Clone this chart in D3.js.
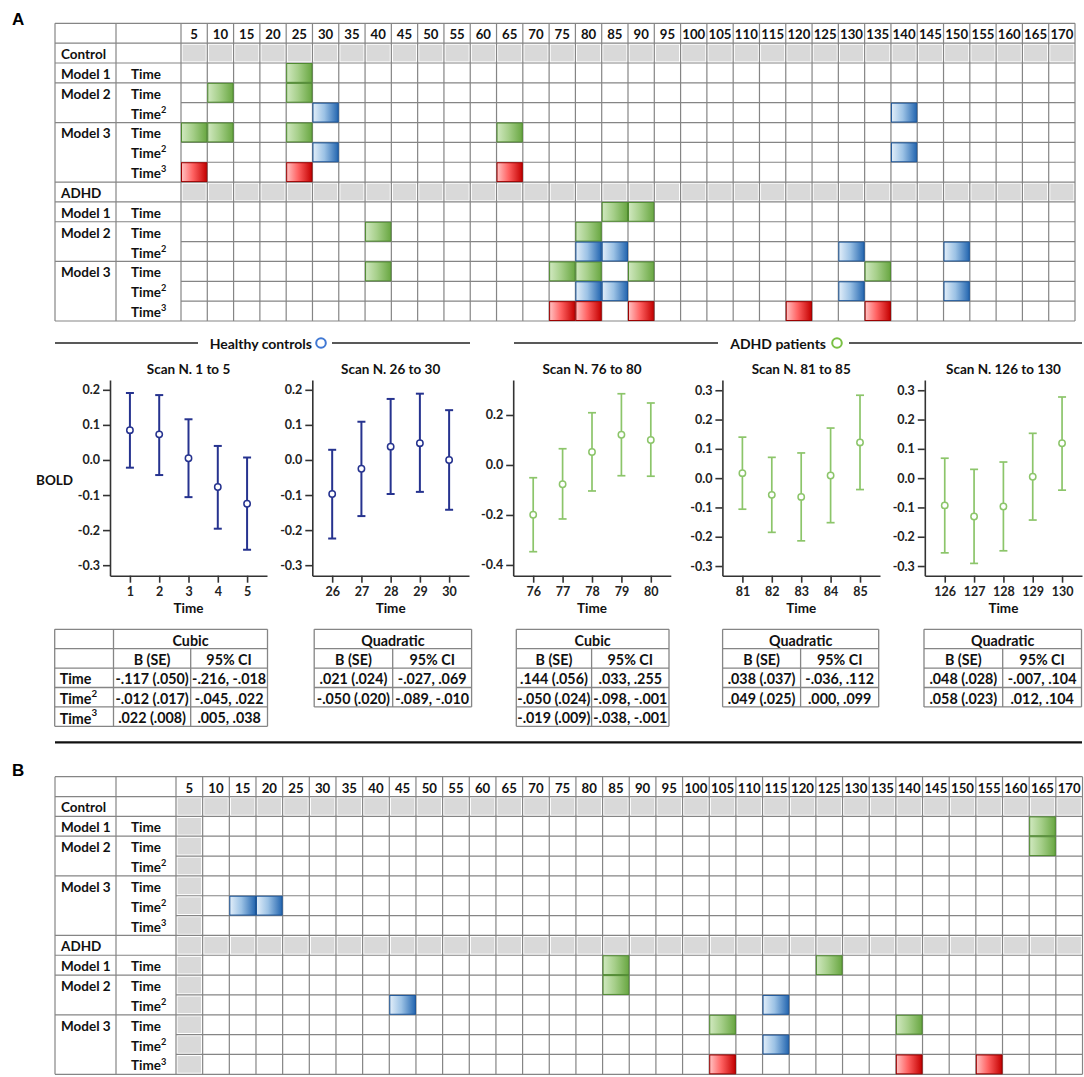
<!DOCTYPE html>
<html><head><meta charset="utf-8">
<script src="https://cdn.jsdelivr.net/npm/d3@7"></script>
<style>body{margin:0;background:#fff}svg{display:block}</style>
</head><body><svg id="c" width="1084" height="1077"></svg>
<script>
// ---------- DATA ----------
const scanCols = [5,10,15,20,25,30,35,40,45,50,55,60,65,70,75,80,85,90,95,100,105,110,115,120,125,130,135,140,145,150,155,160,165,170];
const rowGroup = ["Control","Model 1","Model 2","","Model 3","","","ADHD","Model 1","Model 2","","Model 3","",""];
const rowTerm  = ["","Time","Time","Time²","Time","Time²","Time³","","Time","Time","Time²","Time","Time²","Time³"];
const headerRows = [0,7];
const groupEnds = [0,1,3,6,7,8,10,13];

// Panel A significant cells: [rowIndex, scan]
const aLinear = [[1,25],[2,10],[2,25],[4,5],[4,10],[4,25],[4,65],[8,85],[8,90],[9,40],[9,80],[11,40],[11,75],[11,80],[11,90],[11,135]];
const aQuadratic = [[3,30],[3,140],[5,30],[5,140],[10,80],[10,85],[10,130],[10,150],[12,80],[12,85],[12,130],[12,150]];
const aCubic = [[6,5],[6,25],[6,65],[13,75],[13,80],[13,90],[13,120],[13,135]];
const aExcluded = [];

// Panel B significant cells
const bLinear = [[1,165],[2,165],[8,85],[8,125],[9,85],[11,105],[11,140]];
const bQuadratic = [[5,15],[5,20],[10,45],[10,115],[12,115]];
const bCubic = [[13,105],[13,140],[13,155]];
const bExcluded = [5];

// Error-bar panels
const p1Times = [1,2,3,4,5];
const p1Mean = [0.085,0.073,0.005,-0.077,-0.125];
const p1Lo = [-0.022,-0.043,-0.106,-0.196,-0.256];
const p1Hi = [0.191,0.185,0.116,0.040,0.007];

const p2Times = [26,27,28,29,30];
const p2Mean = [-0.097,-0.025,0.038,0.048,0.000];
const p2Lo = [-0.224,-0.160,-0.097,-0.091,-0.142];
const p2Hi = [0.029,0.109,0.174,0.189,0.142];

const p3Times = [76,77,78,79,80];
const p3Mean = [-0.199,-0.077,0.052,0.121,0.100];
const p3Lo = [-0.347,-0.216,-0.104,-0.043,-0.045];
const p3Hi = [-0.051,0.065,0.209,0.285,0.248];

const p4Times = [81,82,83,84,85];
const p4Mean = [0.017,-0.057,-0.064,0.009,0.122];
const p4Lo = [-0.106,-0.185,-0.214,-0.152,-0.039];
const p4Hi = [0.140,0.071,0.086,0.171,0.283];

const p5Times = [126,127,128,129,130];
const p5Mean = [-0.093,-0.131,-0.097,0.005,0.119];
const p5Lo = [-0.255,-0.291,-0.248,-0.143,-0.041];
const p5Hi = [0.068,0.030,0.055,0.153,0.277];

const panelTitles = ["Scan N. 1 to 5","Scan N. 26 to 30","Scan N. 76 to 80","Scan N. 81 to 85","Scan N. 126 to 130"];
const ticksHC = [-0.3,-0.2,-0.1,0.0,0.1,0.2];
const ticks76 = [-0.4,-0.2,0.0,0.2];
const ticksAD = [-0.3,-0.2,-0.1,0.0,0.1,0.2,0.3];

// Tables
const tableTitles = ["Cubic","Quadratic","Cubic","Quadratic","Quadratic"];
const tableTerms = ["Time","Time²","Time³"];
const t1B = ["-.117 (.050)","-.012 (.017)",".022 (.008)"];
const t1CI = ["-.216, -.018","-.045, .022",".005, .038"];
const t2B = [".021 (.024)","-.050 (.020)"];
const t2CI = ["-.027, .069","-.089, -.010"];
const t3B = [".144 (.056)","-.050 (.024)","-.019 (.009)"];
const t3CI = [".033, .255","-.098, -.001","-.038, -.001"];
const t4B = [".038 (.037)",".049 (.025)"];
const t4CI = ["-.036, .112",".000, .099"];
const t5B = [".048 (.028)",".058 (.023)"];
const t5CI = ["-.007, .104",".012, .104"];

// ---------- DRAW ----------
const svg = d3.select("#c");
const FONT = "Lato, 'Open Sans', sans-serif";
svg.append("rect").attr("width",1084).attr("height",1077).attr("fill","#fff");

// write text with real superscript for ² / ³
function supText(sel, s, size) {
  sel.text(null);
  const m = s.match(/^(.*?)([²³])$/);
  if (!m) { sel.text(s); return; }
  sel.append("tspan").text(m[1]);
  sel.append("tspan").attr("font-size", size * 0.68).attr("dy", -size * 0.36).text(m[2] === "²" ? "2" : "3");
}

const defs = svg.append("defs");
const grads = {
  green: {stops:["#d0e8bf","#a6cf8a","#69a742"], stroke:"#4f8a30"},
  blue:  {stops:["#e2eef9","#9cc2e5","#2466b0"], stroke:"#1c5599"},
  red:   {stops:["#ffc2c2","#ff6262","#c40000"], stroke:"#9c0000"}
};
Object.entries(grads).forEach(([k,v]) => {
  const lg = defs.append("linearGradient").attr("id","g-"+k).attr("x1","0").attr("x2","1").attr("y1","0").attr("y2","0");
  lg.append("stop").attr("offset","0").attr("stop-color",v.stops[0]);
  lg.append("stop").attr("offset","0.45").attr("stop-color",v.stops[1]);
  lg.append("stop").attr("offset","1").attr("stop-color",v.stops[2]);
});

function drawGrid(cfg) {
  const g = svg.append("g");
  const x = d3.scaleBand().domain(scanCols).range([cfg.x2, cfg.xEnd]);
  const y = d3.scaleBand().domain(d3.range(15)).range([cfg.yTop, cfg.yBot]);
  const bw = x.bandwidth(), bh = y.bandwidth();
  const gray = [];
  headerRows.forEach(r => scanCols.forEach(c => gray.push([r,c])));
  cfg.excluded.forEach(c => rowGroup.forEach((_, r) => { if (!headerRows.includes(r)) gray.push([r,c]); }));
  g.selectAll(".gr").data(gray).join("rect")
    .attr("x", d => x(d[1]) + 1.6).attr("y", d => y(d[0]+1) + 1.6)
    .attr("width", bw - 3.2).attr("height", bh - 3.2).attr("fill", "#d9d9d9");
  const lc = "#858585", lw = 1.2;
  const vx = scanCols.map(c => x(c)).concat([cfg.xEnd]);
  g.selectAll(".vl").data(vx).join("line")
    .attr("x1", d => d).attr("x2", d => d).attr("y1", cfg.yTop).attr("y2", cfg.yBot)
    .attr("stroke", lc).attr("stroke-width", lw);
  g.selectAll(".vl2").data([cfg.x0, cfg.x1]).join("line")
    .attr("x1", d => d).attr("x2", d => d).attr("y1", cfg.yTop).attr("y2", cfg.yBot)
    .attr("stroke", lc).attr("stroke-width", lw);
  const hy = d3.range(15).map(i => y(i)).concat([cfg.yBot]);
  g.selectAll(".hl").data(hy).join("line")
    .attr("x1", cfg.x2).attr("x2", cfg.xEnd).attr("y1", d => d).attr("y2", d => d)
    .attr("stroke", lc).attr("stroke-width", lw);
  const hyL = [cfg.yTop, y(1)].concat(groupEnds.map(r => r + 2 < 15 ? y(r+2) : cfg.yBot));
  g.selectAll(".hl2").data(hyL).join("line")
    .attr("x1", cfg.x0).attr("x2", cfg.x2).attr("y1", d => d).attr("y2", d => d)
    .attr("stroke", lc).attr("stroke-width", lw);
  [["green", cfg.linear], ["blue", cfg.quad], ["red", cfg.cubic]].forEach(([k, arr]) => {
    g.selectAll(".c-"+k).data(arr).join("rect")
      .attr("x", d => x(d[1]) + 0.5).attr("y", d => y(d[0]+1) + 0.5)
      .attr("width", bw - 1).attr("height", bh - 1)
      .attr("fill", "url(#g-"+k+")").attr("stroke", grads[k].stroke).attr("stroke-width", 1);
  });
  g.selectAll(".hn").data(scanCols).join("text")
    .attr("x", d => x(d) + bw/2).attr("y", y(0) + bh/2 + 1)
    .attr("text-anchor", "middle").attr("dominant-baseline", "central")
    .attr("font-family", FONT).attr("font-weight", "bold").attr("font-size", 13.2).attr("fill", "#111")
    .text(d => d);
  g.selectAll(".rg").data(rowGroup).join("text")
    .attr("x", cfg.x0 + 6).attr("y", (d,i) => y(i+1) + bh/2 + 1)
    .attr("dominant-baseline", "central")
    .attr("font-family", FONT).attr("font-weight", "bold").attr("font-size", 13.5).attr("fill", "#111")
    .text(d => d);
  g.selectAll(".rt").data(rowTerm).join("text")
    .attr("x", cfg.x1 + 15).attr("y", (d,i) => y(i+1) + bh/2 + 1)
    .attr("dominant-baseline", "central")
    .attr("font-family", FONT).attr("font-weight", "bold").attr("font-size", 13.5).attr("fill", "#111")
    .each(function(d) { supText(d3.select(this), d, 13.5); });
}

drawGrid({x0:55, x1:116, x2:181, xEnd:1075, yTop:23.3, yBot:321,
  linear:aLinear, quad:aQuadratic, cubic:aCubic, excluded:aExcluded});
drawGrid({x0:55, x1:116, x2:176, xEnd:1082.5, yTop:776.7, yBot:1074.3,
  linear:bLinear, quad:bQuadratic, cubic:bCubic, excluded:bExcluded});

svg.append("text").attr("x", 12).attr("y", 24.5).text("A")
  .attr("font-family", "'Liberation Sans', Arial, sans-serif").attr("font-weight", "bold").attr("font-size", 17);
svg.append("text").attr("x", 12).attr("y", 775.5).text("B")
  .attr("font-family", "'Liberation Sans', Arial, sans-serif").attr("font-weight", "bold").attr("font-size", 17);

// Section headers
const secY = 343;
const secLines = [[55,198],[332,470],[514,718],[849,1082]];
svg.selectAll(".sec").data(secLines).join("line")
  .attr("x1", d => d[0]).attr("x2", d => d[1]).attr("y1", secY).attr("y2", secY)
  .attr("stroke", "#222").attr("stroke-width", 1.5);
svg.append("text").attr("x", 312).attr("y", secY).attr("dominant-baseline", "central").attr("text-anchor", "end")
  .attr("font-family", FONT).attr("font-weight", "bold").attr("font-size", 14).attr("fill", "#111").text("Healthy controls");
svg.append("circle").attr("cx", 321).attr("cy", secY).attr("r", 4.8).attr("fill", "none").attr("stroke", "#3f78d4").attr("stroke-width", 2);
svg.append("text").attr("x", 826).attr("y", secY).attr("dominant-baseline", "central").attr("text-anchor", "end")
  .attr("font-family", FONT).attr("font-weight", "bold").attr("font-size", 14).attr("fill", "#111").text("ADHD patients");
svg.append("circle").attr("cx", 837).attr("cy", secY).attr("r", 4.8).attr("fill", "none").attr("stroke", "#79c043").attr("stroke-width", 2);

// Error bar plots
const fmt = d => d3.format(".1f")(d).replace("\u2212", "-");
const plots = [
  {title: panelTitles[0], times: p1Times, mean: p1Mean, lo: p1Lo, hi: p1Hi, ticks: ticksHC, dom: [-0.33, 0.228], left: 110, right: 267, color: "#26338f", sw: 2},
  {title: panelTitles[1], times: p2Times, mean: p2Mean, lo: p2Lo, hi: p2Hi, ticks: ticksHC, dom: [-0.33, 0.228], left: 312.3, right: 469, color: "#26338f", sw: 2},
  {title: panelTitles[2], times: p3Times, mean: p3Mean, lo: p3Lo, hi: p3Hi, ticks: ticks76, dom: [-0.443, 0.34], left: 513.2, right: 670.8, color: "#8cc56a", sw: 1.7},
  {title: panelTitles[3], times: p4Times, mean: p4Mean, lo: p4Lo, hi: p4Hi, ticks: ticksAD, dom: [-0.333, 0.335], left: 722.4, right: 880, color: "#8cc56a", sw: 1.7},
  {title: panelTitles[4], times: p5Times, mean: p5Mean, lo: p5Lo, hi: p5Hi, ticks: ticksAD, dom: [-0.333, 0.335], left: 924.8, right: 1082, color: "#8cc56a", sw: 1.7}
];
const yBot = 575.7, yTopP = 380;
plots.forEach(p => {
  const g = svg.append("g");
  const x = d3.scalePoint().domain(p.times).range([p.left, p.right]).padding(0.68);
  const y = d3.scaleLinear().domain(p.dom).range([yBot, yTopP]);
  const ya = g.append("g").attr("transform", `translate(${p.left},0)`)
    .call(d3.axisLeft(y).tickValues(p.ticks).tickFormat(fmt).tickSize(7).tickSizeOuter(0).tickPadding(3));
  const xa = g.append("g").attr("transform", `translate(0,${yBot})`)
    .call(d3.axisBottom(x).tickSize(7).tickSizeOuter(0).tickPadding(4));
  [ya, xa].forEach(a => {
    a.select(".domain").attr("stroke", "#333").attr("stroke-width", 1.6);
    a.selectAll(".tick line").attr("stroke", "#333").attr("stroke-width", 1.6);
    a.selectAll(".tick text").attr("font-family", FONT).attr("font-weight", "bold").attr("font-size", 12.5).attr("fill", "#222");
  });
  g.append("text").attr("x", (p.left + p.right)/2).attr("y", 369).attr("text-anchor", "middle").attr("dominant-baseline", "central")
    .attr("font-family", FONT).attr("font-weight", "bold").attr("font-size", 13.5).attr("fill", "#111").text(p.title);
  g.append("text").attr("x", (p.left + p.right)/2).attr("y", 608).attr("text-anchor", "middle").attr("dominant-baseline", "central")
    .attr("font-family", FONT).attr("font-weight", "bold").attr("font-size", 13.5).attr("fill", "#111").text("Time");
  const idx = d3.range(p.times.length);
  g.selectAll(".eb").data(idx).join("line")
    .attr("x1", i => x(p.times[i])).attr("x2", i => x(p.times[i]))
    .attr("y1", i => y(p.lo[i])).attr("y2", i => y(p.hi[i]))
    .attr("stroke", p.color).attr("stroke-width", p.sw);
  ["lo", "hi"].forEach(k => {
    g.selectAll(".cap"+k).data(idx).join("line")
      .attr("x1", i => x(p.times[i]) - 4).attr("x2", i => x(p.times[i]) + 4)
      .attr("y1", i => y(p[k][i])).attr("y2", i => y(p[k][i]))
      .attr("stroke", p.color).attr("stroke-width", p.sw);
  });
  g.selectAll(".pt").data(idx).join("circle")
    .attr("cx", i => x(p.times[i])).attr("cy", i => y(p.mean[i])).attr("r", 3.2)
    .attr("fill", "#fff").attr("stroke", p.color).attr("stroke-width", 1.5);
});
svg.append("text").attr("x", 36).attr("y", 480).attr("dominant-baseline", "central")
  .attr("font-family", FONT).attr("font-weight", "bold").attr("font-size", 13.5).attr("fill", "#111").text("BOLD");

// Tables
function drawTable(edges, title, B, CI, terms) {
  const g = svg.append("g");
  const top = 629.3, rh = 19.4;
  const nRows = 2 + B.length;
  const lc = "#858585";
  const hasLab = !!terms;
  const c0 = hasLab ? 1 : 0;
  const left = edges[0], right = edges[edges.length-1];
  for (let r = 0; r <= nRows; r++) {
    g.append("line").attr("x1", left).attr("x2", right)
      .attr("y1", top + r*rh).attr("y2", top + r*rh).attr("stroke", lc).attr("stroke-width", 1.3);
  }
  edges.forEach((ex, i) => {
    const isMid = (i === c0 + 1);
    g.append("line").attr("x1", ex).attr("x2", ex)
      .attr("y1", isMid ? top + rh : top).attr("y2", top + nRows*rh)
      .attr("stroke", lc).attr("stroke-width", 1.3);
  });
  const txt = (tx, ty, s, anchor) => g.append("text").attr("x", tx).attr("y", ty + 1).attr("text-anchor", anchor || "middle")
    .attr("dominant-baseline", "central").attr("font-family", FONT).attr("font-weight", "bold").attr("font-size", 14.3)
    .attr("fill", "#111").each(function() { supText(d3.select(this), s, 14.3); });
  txt((edges[c0] + right)/2, top + rh/2, title);
  txt((edges[c0] + edges[c0+1])/2, top + 1.5*rh, "B (SE)");
  txt((edges[c0+1] + edges[c0+2])/2, top + 1.5*rh, "95% CI");
  B.forEach((b, i) => {
    const cy = top + (2.5 + i)*rh;
    txt((edges[c0] + edges[c0+1])/2, cy, b);
    txt((edges[c0+1] + edges[c0+2])/2, cy, CI[i]);
    if (hasLab) txt(left + 5, cy, terms[i], "start");
  });
}
drawTable([54.7,113.5,190.7,267.5], tableTitles[0], t1B, t1CI, tableTerms);
drawTable([314.2,392.7,471.6], tableTitles[1], t2B, t2CI, null);
drawTable([516.3,591.6,669], tableTitles[2], t3B, t3CI, null);
drawTable([722.6,800.6,878.7], tableTitles[3], t4B, t4CI, null);
drawTable([924,1002.7,1081.5], tableTitles[4], t5B, t5CI, null);

svg.append("line").attr("x1", 55).attr("x2", 1082).attr("y1", 742.3).attr("y2", 742.3)
  .attr("stroke", "#111").attr("stroke-width", 2.2);
</script></body></html>
